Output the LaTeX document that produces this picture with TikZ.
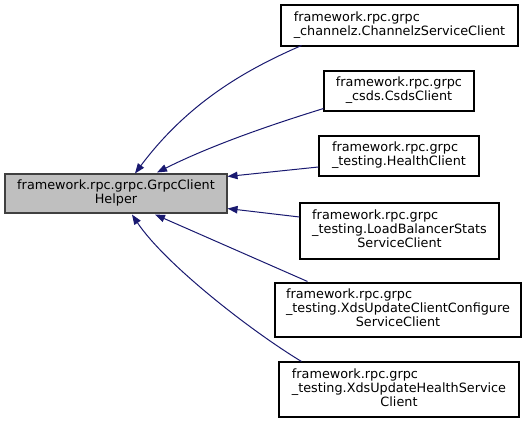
\documentclass[tikz,border=0pt]{standalone}
\usepackage{fontspec}
\setmainfont{DejaVu Sans}
\usetikzlibrary{arrows.meta,calc}
\definecolor{edgeblue}{HTML}{191970}
\newcommand{\lastln}[1]{\multicolumn{1}{@{}c@{}}{#1}}
\begin{document}
\begin{tikzpicture}[x=0.75pt,y=-0.75pt,
				every node/.style={draw=black,fill=white,line width=0.8pt,inner sep=0pt,font=\fontsize{9.6}{10.5}\selectfont},
				base/.style={draw=black!75,fill=black!25},
				edge/.style={draw=edgeblue,line width=0.75pt,-{Triangle[length=7.5pt,width=5.6pt]}}]
\useasboundingbox (0,0) rectangle (529,423);
\node[base,minimum width=166.5pt,minimum height=29.25pt] (helper) at (116,193.5)
	{\begin{tabular}{@{}l@{}}framework.rpc.grpc.GrpcClient\\ \lastln{Helper}\end{tabular}};
\node[minimum width=177.75pt,minimum height=30.75pt] (chz) at (399.5,25.5)
	{\begin{tabular}{@{}l@{}}framework.rpc.grpc\\ \lastln{\_channelz.ChannelzServiceClient}\end{tabular}};
\node[minimum width=112.5pt,minimum height=30pt] (csds) at (399,91)
	{\begin{tabular}{@{}l@{}}framework.rpc.grpc\\ \lastln{\_csds.CsdsClient}\end{tabular}};
\node[minimum width=120pt,minimum height=30pt] (health) at (399,156)
	{\begin{tabular}{@{}l@{}}framework.rpc.grpc\\ \lastln{\_testing.HealthClient}\end{tabular}};
\node[minimum width=149.25pt,minimum height=42pt] (lbstats) at (399.5,231)
	{\begin{tabular}{@{}l@{}}framework.rpc.grpc\\ \_testing.LoadBalancerStats\\ \lastln{ServiceClient}\end{tabular}};
\node[minimum width=184.5pt,minimum height=40.5pt] (xdsconf) at (398,310)
	{\begin{tabular}{@{}l@{}}framework.rpc.grpc\\ \_testing.XdsUpdateClientConfigure\\ \lastln{ServiceClient}\end{tabular}};
\node[minimum width=180pt,minimum height=41.25pt] (xdshealth) at (399,389.5)
	{\begin{tabular}{@{}l@{}}framework.rpc.grpc\\ \_testing.XdsUpdateHealthService\\ \lastln{Client}\end{tabular}};
% inheritance edges
\draw[edge] ($(chz.south west)+(21,-1)$) .. controls (250,68) and (190,100) .. ($(helper.north)+(19,0)$);
\draw[edge] ($(csds.south west)+(0,-3)$) .. controls (267,126) and (210,146) .. ($(helper.north)+(41,-1)$);
\draw[edge] ($(health.west)+(0,11)$) -- ($(helper.north east)+(0,3)$);
\draw[edge] ($(lbstats.west)+(0,-14)$) -- ($(helper.south east)+(0,-5)$);
\draw[edge] ($(xdsconf.north west)+(33,-1)$) -- ($(helper.south)+(39,1)$);
\draw[edge] ($(xdshealth.north west)+(23,0)$) .. controls (251,331) and (165,264) .. ($(helper.south)+(16,1)$);
\end{tikzpicture}
\end{document}
